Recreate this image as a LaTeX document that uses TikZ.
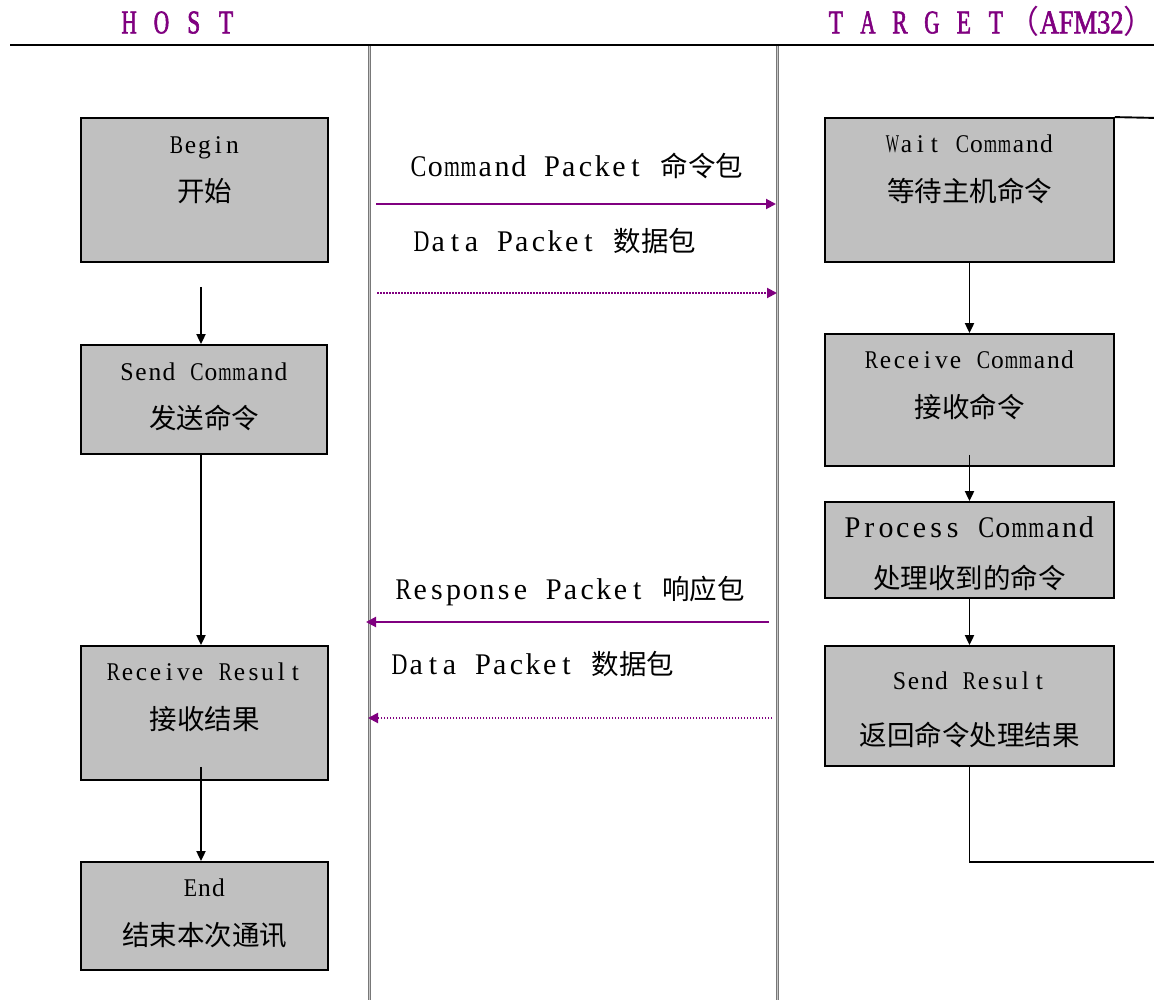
\documentclass[tikz,border=0pt]{standalone}
\usepackage{fontspec}
\usepackage{graphicx}
\setmainfont{Liberation Serif}
\newfontfamily\latfont{Liberation Serif}
\newfontfamily\zhfont{Noto Sans CJK SC}
\newfontfamily\hdfont{Liberation Serif}[FakeStretch=0.7,FakeBold=1.8]
\newfontfamily\hdwide{Liberation Serif}[FakeStretch=0.8,FakeBold=1.8]
\usetikzlibrary{arrows.meta,calc}
\newsavebox\glyphbox
\newcommand\monochar[2]{\sbox\glyphbox{#2}%
  \ifdim\wd\glyphbox>0.95\dimexpr#1\relax
    \makebox[#1][c]{\resizebox{0.95\dimexpr#1\relax}{\height}{\usebox\glyphbox}}%
  \else
    \makebox[#1][c]{\usebox\glyphbox}%
  \fi}
\ExplSyntaxOn
\NewDocumentCommand\monostr{mm}{\str_map_inline:nn{#2}{\monochar{#1}{##1}}}
\ExplSyntaxOff
\newcommand\boxlat[1]{{\latfont\fontsize{25.5}{30}\selectfont\monostr{14pt}{#1}}}
\newcommand\biglat[1]{{\latfont\fontsize{30}{34}\selectfont\monostr{16.7pt}{#1}}}
\newcommand\zhtext[1]{{\zhfont\fontsize{27.5}{32}\selectfont #1}}
\definecolor{boxgray}{RGB}{192,192,192}
\definecolor{lanegray}{RGB}{120,120,120}
\definecolor{lanelight}{RGB}{200,200,200}
\definecolor{pktpurple}{RGB}{128,0,128}
\begin{document}
\begin{tikzpicture}[x=1pt,y=-1pt,
  box/.style={draw=black,line width=1.8pt,fill=boxgray,inner sep=0pt},
  txt/.style={inner sep=0pt,anchor=base},
  lbl/.style={inner sep=0pt,anchor=base west},
  hd/.style={inner sep=0pt,anchor=base west,text=pktpurple},
  lane/.style={draw=lanegray,double=lanelight,line width=1pt,double distance=1pt},
  blk/.style={draw=black,line width=1.9pt,-{Triangle[length=10pt,width=9pt]}},
  plain/.style={draw=black,line width=1.9pt},
  pkt/.style={draw=pktpurple,line width=2pt,-{Triangle[length=10pt,width=10pt]}},
  pktdot/.style={pkt,dash pattern=on 1.5pt off 1.5pt}]
\useasboundingbox (0,0) rectangle (1154,1000);
\fill[white] (0,0) rectangle (1154,1000);

% header
\node[hd] (host) at (120.9,33.3) {\hdfont\fontsize{33}{36}\selectfont\monostr{16.15pt}{H O S T}};
\node[hd] (target) at (827.7,33.3) {\hdfont\fontsize{33}{36}\selectfont\monostr{16pt}{T A R G E T}\hspace{4pt}{\zhfont\fontsize{32}{36}\selectfont （}{\hdwide AFM32}{\zhfont\fontsize{32}{36}\selectfont ）}};
\coordinate (hlw) at (10,45);
\coordinate (hle) at (1156,45);
\draw[line width=1.8pt] (hlw) -- (hle);

% lanes
\coordinate (l1t) at (369.5,46);
\coordinate (l1b) at (369.5,1002);
\coordinate (l2t) at (777.5,46);
\coordinate (l2b) at (777.5,1002);
\draw[lane] (l1t) -- (l1b);
\draw[lane] (l2t) -- (l2b);

% host boxes
\node[box,minimum width=247pt,minimum height=144pt] (begin) at (204.5,190) {};
\node[txt] (begin-en) at (204.5,153.5) {\boxlat{Begin}};
\node[txt] (begin-zh) at (204.5,201.5) {\zhtext{开始}};

\node[box,minimum width=246pt,minimum height=109pt] (send) at (204,399.5) {};
\node[txt] (send-en) at (204,380) {\boxlat{Send Command}};
\node[txt] (send-zh) at (204,428.5) {\zhtext{发送命令}};

\node[box,minimum width=247pt,minimum height=134pt] (rres) at (204.5,713) {};
\node[txt] (rres-en) at (204.5,680.5) {\boxlat{Receive Result}};
\node[txt] (rres-zh) at (204.5,729.5) {\zhtext{接收结果}};

\node[box,minimum width=247pt,minimum height=108pt] (end) at (204.5,916) {};
\node[txt] (end-en) at (204.5,896.5) {\boxlat{End}};
\node[txt] (end-zh) at (204.5,945.5) {\zhtext{结束本次通讯}};

% target boxes
\node[box,minimum width=289pt,minimum height=144pt] (wait) at (969.5,190) {};
\node[txt] (wait-en) at (969.5,152.5) {\boxlat{Wait Command}};
\node[txt] (wait-zh) at (969.5,201.5) {\zhtext{等待主机命令}};

\node[box,minimum width=289pt,minimum height=132pt] (rcmd) at (969.5,400) {};
\node[txt] (rcmd-en) at (969.5,368.5) {\boxlat{Receive Command}};
\node[txt] (rcmd-zh) at (969.5,417.5) {\zhtext{接收命令}};

\node[box,minimum width=289pt,minimum height=96pt] (proc) at (969.5,550) {};
\node[txt] (proc-en) at (969.5,537) {\biglat{Process Command}};
\node[txt] (proc-zh) at (969.5,588) {\zhtext{处理收到的命令}};

\node[box,minimum width=289pt,minimum height=120pt] (sres) at (969.5,706) {};
\node[txt] (sres-en) at (969.5,689.5) {\boxlat{Send Result}};
\node[txt] (sres-zh) at (969.5,745.5) {\zhtext{返回命令处理结果}};

% host flow
\draw[blk] ($(begin.south)+(-3.5,24)$) -- ($(send.north)+(-3,0)$);
\draw[blk] ($(send.south)+(-3,0)$) -- ($(rres.north)+(-3.5,0)$);
\draw[blk] ($(rres.south)+(-3.5,-14)$) -- ($(end.north)+(-3.5,0)$);

% target flow
\draw[blk] (wait.south) -- (rcmd.north);
\draw[blk] ($(rcmd.south)+(0,-12)$) -- (proc.north);
\draw[blk] (proc.south) -- (sres.north);
\coordinate (loopout) at (1158,862);
\coordinate (loopin) at (1158,118);
\draw[plain] (sres.south) |- (loopout);
\draw[plain] (wait.north east) -- (loopin);

% packets
\coordinate (cmd-s) at (376,204);
\coordinate (cmd-e) at (776,204);
\coordinate (dat1-s) at (377,293);
\coordinate (dat1-e) at (777,293);
\coordinate (rsp-s) at (769,622);
\coordinate (rsp-e) at (366,622);
\coordinate (dat2-s) at (772,718);
\coordinate (dat2-e) at (368,718);
\draw[pkt] (cmd-s) -- (cmd-e);
\draw[pktdot] (dat1-s) -- (dat1-e);
\draw[pkt] (rsp-s) -- (rsp-e);
\draw[pktdot] (dat2-s) -- (dat2-e);

\node[lbl] (cmd-l) at (410,177) {\biglat{Command Packet }\zhtext{命令包}};
\node[lbl] (dat1-l) at (413,252) {\biglat{Data Packet }\zhtext{数据包}};
\node[lbl] (rsp-l) at (395,599) {\biglat{Response Packet }\zhtext{响应包}};
\node[lbl] (dat2-l) at (391,674) {\biglat{Data Packet }\zhtext{数据包}};
\end{tikzpicture}
\end{document}
